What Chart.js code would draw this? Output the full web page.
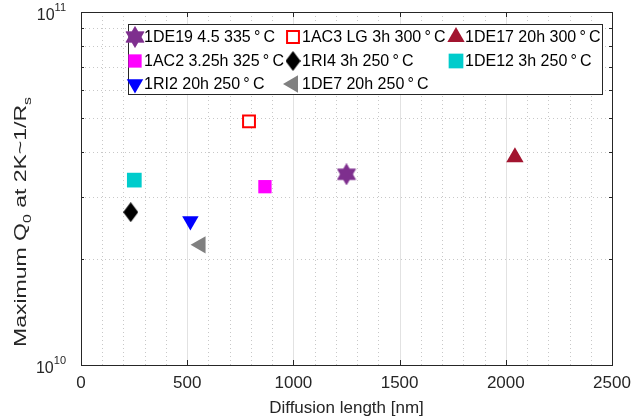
<!DOCTYPE html>
<html>
<head>
<meta charset="utf-8">
<script src="https://cdn.jsdelivr.net/npm/chart.js@4.4.1/dist/chart.umd.min.js"></script>
<style>
html, body { margin: 0; padding: 0; background: #fff; }
#wrap { width: 641px; height: 418px; }
</style>
</head>
<body>
<div id="wrap"><canvas id="myChart" width="641" height="418"></canvas></div>
<script>
// values
const sampleNames = [
    '1DE19 4.5 335\u2009°\u2009C', '1AC3 LG 3h 300\u2009°\u2009C', '1DE17 20h 300\u2009°\u2009C',
    '1AC2 3.25h 325\u2009°\u2009C', '1RI4 3h 250\u2009°\u2009C', '1DE12 3h 250\u2009°\u2009C',
    '1RI2 20h 250\u2009°\u2009C', '1DE7 20h 250\u2009°\u2009C'
];
const diffusionLength = [1250, 791, 2043, 866, 234, 251, 515, 563];
const maxQ0 = [3.47e10, 4.9e10, 3.88e10, 3.2e10, 2.71e10, 3.34e10, 2.56e10, 2.19e10];
const xTicks = [0, 500, 1000, 1500, 2000, 2500];
const yTickExps = [10, 11];

const AXIS_COLOR = '#262626';
const FONT = '"Liberation Sans", Arial, Helvetica, sans-serif';

function makeMarker(w, h, draw) {
    const c = document.createElement('canvas');
    c.width = w;
    c.height = h;
    draw(c.getContext('2d'), w, h);
    return c;
}

// hexagram, MATLAB 'h' style
const hexagram = makeMarker(20, 22, (g, w, h) => {
    const cx = w / 2, cy = h / 2, r = 10.5;
    g.fillStyle = '#7E2F8E';
    g.strokeStyle = '#9a5aa6';
    g.lineWidth = 0.8;
    g.beginPath();
    [-90, 30, 150].forEach((a, i) => {
        const t = a * Math.PI / 180;
        i ? g.lineTo(cx + r * Math.cos(t), cy + r * Math.sin(t)) : g.moveTo(cx + r * Math.cos(t), cy + r * Math.sin(t));
    });
    g.closePath();
    g.moveTo(cx + r * Math.cos(Math.PI / 2), cy + r * Math.sin(Math.PI / 2));
    [210, 330].forEach(a => {
        const t = a * Math.PI / 180;
        g.lineTo(cx + r * Math.cos(t), cy + r * Math.sin(t));
    });
    g.closePath();
    g.fill('nonzero');
    g.stroke();
    g.fill('nonzero');
});

// tall diamond
const diamond = makeMarker(15, 20, (g, w, h) => {
    g.fillStyle = '#000000';
    g.beginPath();
    g.moveTo(w / 2, 0);
    g.lineTo(w, h / 2);
    g.lineTo(w / 2, h);
    g.lineTo(0, h / 2);
    g.closePath();
    g.fill();
});

const markerStyles = [
    { pointStyle: hexagram, pointRadius: 10, backgroundColor: '#7E2F8E', borderColor: '#7E2F8E', borderWidth: 0, rotation: 0 },
    { pointStyle: 'rect', pointRadius: 8.4, backgroundColor: '#ffffff', borderColor: '#ff0000', borderWidth: 2, rotation: 0 },
    { pointStyle: 'triangle', pointRadius: 10, backgroundColor: '#A2142F', borderColor: '#A2142F', borderWidth: 0, rotation: 0 },
    { pointStyle: 'rect', pointRadius: 9.4, backgroundColor: '#ff00ff', borderColor: '#ff00ff', borderWidth: 0, rotation: 0 },
    { pointStyle: diamond, pointRadius: 10, backgroundColor: '#000000', borderColor: '#000000', borderWidth: 0, rotation: 0 },
    { pointStyle: 'rect', pointRadius: 10.4, backgroundColor: '#00cccc', borderColor: '#00cccc', borderWidth: 0, rotation: 0 },
    { pointStyle: 'triangle', pointRadius: 9.5, backgroundColor: '#0000ff', borderColor: '#0000ff', borderWidth: 0, rotation: 180 },
    { pointStyle: 'triangle', pointRadius: 10, backgroundColor: '#808080', borderColor: '#808080', borderWidth: 0, rotation: 270 }
];

const datasets = sampleNames.map((name, i) => Object.assign({
    label: name,
    data: [{ x: diffusionLength[i], y: maxQ0[i] }],
    pointHoverRadius: markerStyles[i].pointRadius
}, markerStyles[i]));

// grid lines behind the markers
const gridPlugin = {
    id: 'matlabGrid',
    beforeDatasetsDraw(chart) {
        const { ctx, chartArea: a, scales: { x, y } } = chart;
        ctx.save();
        ctx.lineWidth = 1;
        // minor dotted
        ctx.strokeStyle = '#c8c8c8';
        ctx.setLineDash([1, 3]);
        for (let v = 100; v < 2500; v += 100) {
            if (v % 500 === 0) continue;
            const px = Math.round(x.getPixelForValue(v)) + 0.5;
            ctx.beginPath(); ctx.moveTo(px, a.top); ctx.lineTo(px, a.bottom); ctx.stroke();
        }
        for (let m = 2; m <= 9; m++) {
            const py = Math.round(y.getPixelForValue(m * 1e10)) + 0.5;
            ctx.beginPath(); ctx.moveTo(a.left, py); ctx.lineTo(a.right, py); ctx.stroke();
        }
        // major solid
        ctx.setLineDash([]);
        ctx.strokeStyle = '#e2e2e2';
        xTicks.slice(1, -1).forEach(v => {
            const px = Math.round(x.getPixelForValue(v)) + 0.5;
            ctx.beginPath(); ctx.moveTo(px, a.top); ctx.lineTo(px, a.bottom); ctx.stroke();
        });
        ctx.restore();
    },
    afterDraw(chart) {
        const { ctx, chartArea: a, scales: { x, y } } = chart;
        ctx.save();
        // box
        ctx.strokeStyle = AXIS_COLOR;
        ctx.lineWidth = 1;
        ctx.strokeRect(a.left + 0.5, a.top + 0.5, a.right - a.left, a.bottom - a.top);
        // ticks
        ctx.beginPath();
        xTicks.slice(1, -1).forEach(v => {
            const px = Math.round(x.getPixelForValue(v)) + 0.5;
            ctx.moveTo(px, a.bottom); ctx.lineTo(px, a.bottom - 5);
            ctx.moveTo(px, a.top); ctx.lineTo(px, a.top + 5);
        });
        for (let m = 2; m <= 9; m++) {
            const py = Math.round(y.getPixelForValue(m * 1e10)) + 0.5;
            ctx.moveTo(a.left, py); ctx.lineTo(a.left + 3, py);
            ctx.moveTo(a.right, py); ctx.lineTo(a.right - 3, py);
        }
        ctx.stroke();

        // x tick labels
        ctx.fillStyle = AXIS_COLOR;
        ctx.font = '17px ' + FONT;
        ctx.textAlign = 'center';
        ctx.textBaseline = 'top';
        xTicks.forEach(v => ctx.fillText(String(v), x.getPixelForValue(v), a.bottom + 10));

        // y tick labels 10^n
        yTickExps.forEach(e => {
            const py = y.getPixelForValue(Math.pow(10, e));
            ctx.font = '11px ' + FONT;
            const supW = ctx.measureText(String(e)).width;
            ctx.textAlign = 'left';
            ctx.textBaseline = 'middle';
            const supX = a.left - 16 - supW + 1;
            ctx.fillText(String(e), supX, py - 4);
            ctx.font = '16px ' + FONT;
            ctx.textAlign = 'right';
            ctx.fillText('10', supX, py + 4);
        });

        // x title
        ctx.font = '17px ' + FONT;
        ctx.textAlign = 'center';
        ctx.textBaseline = 'middle';
        ctx.fillText('Diffusion length [nm]', (a.left + a.right) / 2, 408);

        // y title with subscripts (stretched along its length as in the figure)
        const parts = [['Maximum Q', false], ['0', true], [' at 2K~1/R', false], ['s', true]];
        const big = '16px ' + FONT, small = '11px ' + FONT;
        let total = 0;
        parts.forEach(p => { ctx.font = p[1] ? small : big; total += ctx.measureText(p[0]).width; });
        ctx.translate(22, 222);
        ctx.rotate(-Math.PI / 2);
        ctx.scale(250 / total, 1);
        ctx.textAlign = 'left';
        ctx.textBaseline = 'middle';
        let cx = -total / 2;
        parts.forEach(p => {
            ctx.font = p[1] ? small : big;
            ctx.fillText(p[0], cx, p[1] ? 6 : 0);
            cx += ctx.measureText(p[0]).width;
        });
        ctx.restore();

        drawLegend(chart);
    }
};

// legend boxed inside the axes, three columns
const legendCols = [135, 293, 456];
const legendRows = [37, 61, 84];
function drawLegend(chart) {
    const ctx = chart.ctx;
    ctx.save();
    ctx.fillStyle = '#ffffff';
    ctx.fillRect(128, 24, 475, 70);
    ctx.strokeStyle = AXIS_COLOR;
    ctx.lineWidth = 1;
    ctx.strokeRect(128.5, 24.5, 474, 70);
    chart.data.datasets.forEach((ds, i) => {
        const mx = legendCols[i % 3], my = legendRows[Math.floor(i / 3)];
        ctx.save();
        ctx.fillStyle = ds.backgroundColor;
        ctx.strokeStyle = ds.borderColor;
        ctx.lineWidth = ds.borderWidth;
        Chart.helpers.drawPoint(ctx, {
            pointStyle: ds.pointStyle,
            radius: ds.pointRadius,
            rotation: ds.rotation,
            borderWidth: ds.borderWidth
        }, mx, my);
        ctx.restore();
        ctx.fillStyle = '#000000';
        ctx.font = '16px ' + FONT;
        ctx.textAlign = 'left';
        ctx.textBaseline = 'middle';
        ctx.fillText(ds.label, mx + 9, my + 1);
    });
    ctx.restore();
}

const ctx = document.getElementById('myChart').getContext('2d');
const myChart = new Chart(ctx, {
    type: 'scatter',
    data: { datasets: datasets },
    options: {
        responsive: false,
        animation: false,
        devicePixelRatio: 1,
        layout: { padding: { left: 81, top: 12, right: 29, bottom: 53 } },
        plugins: { legend: { display: false }, tooltip: { enabled: false } },
        scales: {
            x: { type: 'linear', min: 0, max: 2500, display: false },
            y: { type: 'logarithmic', min: 1e10, max: 1e11, display: false }
        }
    },
    plugins: [gridPlugin]
});
</script>
</body>
</html>
